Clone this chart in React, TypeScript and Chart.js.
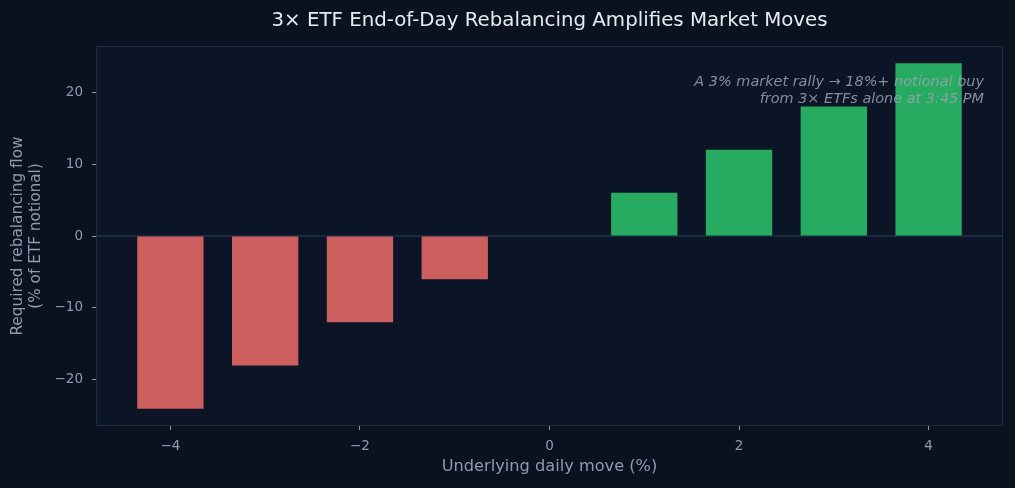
import { useEffect, useRef } from 'react';
import { Chart, registerables } from 'chart.js';

Chart.register(...registerables);

// Underlying daily move (%) and the 3× ETF rebalancing flow it requires (% of notional)
const moves = [-4, -3, -2, -1, 0, 1, 2, 3, 4];
const flows = [-24, -18, -12, -6, 0, 6, 12, 18, 24];
const xTicks = [-4, -2, 0, 2, 4];
const yTicks = [-20, -10, 0, 10, 20];

const TITLE = '3× ETF End-of-Day Rebalancing Amplifies Market Moves';
const NOTE_LINES = ['A 3% market rally → 18%+ notional buy', 'from 3× ETFs alone at 3:45 PM'];

const FONT = '"DejaVu Sans", "Noto Sans", sans-serif';
const FIG_BG = '#0a1220';
const AX_BG = '#0b1526';
const SPINE = '#1e2d45';
const MUTED = '#8d9bb0';
const RED = '#cd5e5e';
const GREEN = '#27ab61';

const xMax = 4.35 + 8.7 * 0.05;
const yMax = 24 * 1.1;

const decorPlugin = {
  id: 'decor',
  beforeDraw(chart: any) {
    const { ctx, chartArea: a, width, height } = chart;
    ctx.save();
    ctx.fillStyle = FIG_BG;
    ctx.fillRect(0, 0, width, height);
    ctx.fillStyle = AX_BG;
    ctx.fillRect(a.left, a.top, a.right - a.left, a.bottom - a.top);
    ctx.restore();
  },
  beforeDatasetsDraw(chart: any) {
    const { ctx, chartArea: a, scales } = chart;
    const y0 = scales.y.getPixelForValue(0);
    ctx.save();
    ctx.strokeStyle = '#1f3251';
    ctx.lineWidth = 1.5;
    ctx.beginPath();
    ctx.moveTo(a.left, y0);
    ctx.lineTo(a.right, y0);
    ctx.stroke();
    ctx.restore();
  },
  afterDraw(chart: any) {
    const { ctx, chartArea: a } = chart;
    ctx.save();
    // frame
    ctx.strokeStyle = SPINE;
    ctx.lineWidth = 1;
    ctx.strokeRect(a.left + 0.5, a.top + 0.5, a.right - a.left - 1, a.bottom - a.top - 1);
    // title
    ctx.fillStyle = '#e6ebf2';
    ctx.font = `19.8px ${FONT}`;
    ctx.textAlign = 'center';
    ctx.textBaseline = 'middle';
    ctx.fillText(TITLE, (a.left + a.right) / 2, 21);
    // note
    ctx.fillStyle = 'rgba(150, 162, 180, 0.85)';
    ctx.font = `italic 14.45px ${FONT}`;
    ctx.textAlign = 'right';
    NOTE_LINES.forEach((line, i) => ctx.fillText(line, a.right - 19, 82 + i * 17));
    ctx.restore();
  },
};

export default function App() {
  const ref = useRef<HTMLCanvasElement>(null);

  useEffect(() => {
    document.body.style.margin = '0';
    const canvas = ref.current;
    if (!canvas) return;
    const chart = new Chart(canvas, {
      type: 'bar',
      data: {
        datasets: [
          {
            data: moves.map((m, i) => ({ x: m, y: flows[i] })),
            backgroundColor: flows.map((v) => (v < 0 ? RED : GREEN)),
            borderWidth: 0,
            barPercentage: 0.7,
            categoryPercentage: 1.0,
          },
        ],
      },
      options: {
        animation: false,
        responsive: false,
        events: [],
        layout: { padding: { top: 46, right: 12, bottom: 0, left: 0 } },
        plugins: {
          legend: { display: false },
          tooltip: { enabled: false },
          title: { display: false },
        },
        scales: {
          x: {
            type: 'linear',
            min: -xMax,
            max: xMax,
            offset: false,
            afterBuildTicks: (s: any) => {
              s.ticks = xTicks.map((v) => ({ value: v }));
            },
            afterFit: (s: any) => {
              s.height = 62;
            },
            grid: {
              offset: false,
              drawOnChartArea: false,
              drawTicks: true,
              tickLength: 4,
              tickColor: MUTED,
              lineWidth: 1,
            },
            border: { display: false },
            ticks: {
              color: MUTED,
              font: { family: FONT, size: 13.5 },
              padding: 8,
              maxRotation: 0,
              callback: (v: any) => String(v).replace('-', '\u2212'),
            },
            title: {
              display: true,
              text: 'Underlying daily move (%)',
              color: MUTED,
              font: { family: FONT, size: 16.2, lineHeight: 1.2 },
              padding: { top: 0, bottom: 11.5 },
            },
          },
          y: {
            type: 'linear',
            min: -yMax,
            max: yMax,
            afterBuildTicks: (s: any) => {
              s.ticks = yTicks.map((v) => ({ value: v }));
            },
            afterFit: (s: any) => {
              s.width = 96;
            },
            grid: {
              drawOnChartArea: false,
              drawTicks: true,
              tickLength: 4,
              tickColor: MUTED,
              lineWidth: 1,
            },
            border: { display: false },
            ticks: {
              color: MUTED,
              font: { family: FONT, size: 13.5 },
              padding: 9,
              callback: (v: any) => String(v).replace('-', '\u2212'),
            },
            title: {
              display: true,
              text: ['Required rebalancing flow', '(% of ETF notional)'],
              color: MUTED,
              font: { family: FONT, size: 15.3, lineHeight: 18 / 15.3 },
              padding: { top: 9.5, bottom: 0 },
            },
          },
        },
      },
      plugins: [decorPlugin],
    } as any);
    return () => chart.destroy();
  }, []);

  return <canvas ref={ref} width={1015} height={488} style={{ display: 'block' }} />;
}
